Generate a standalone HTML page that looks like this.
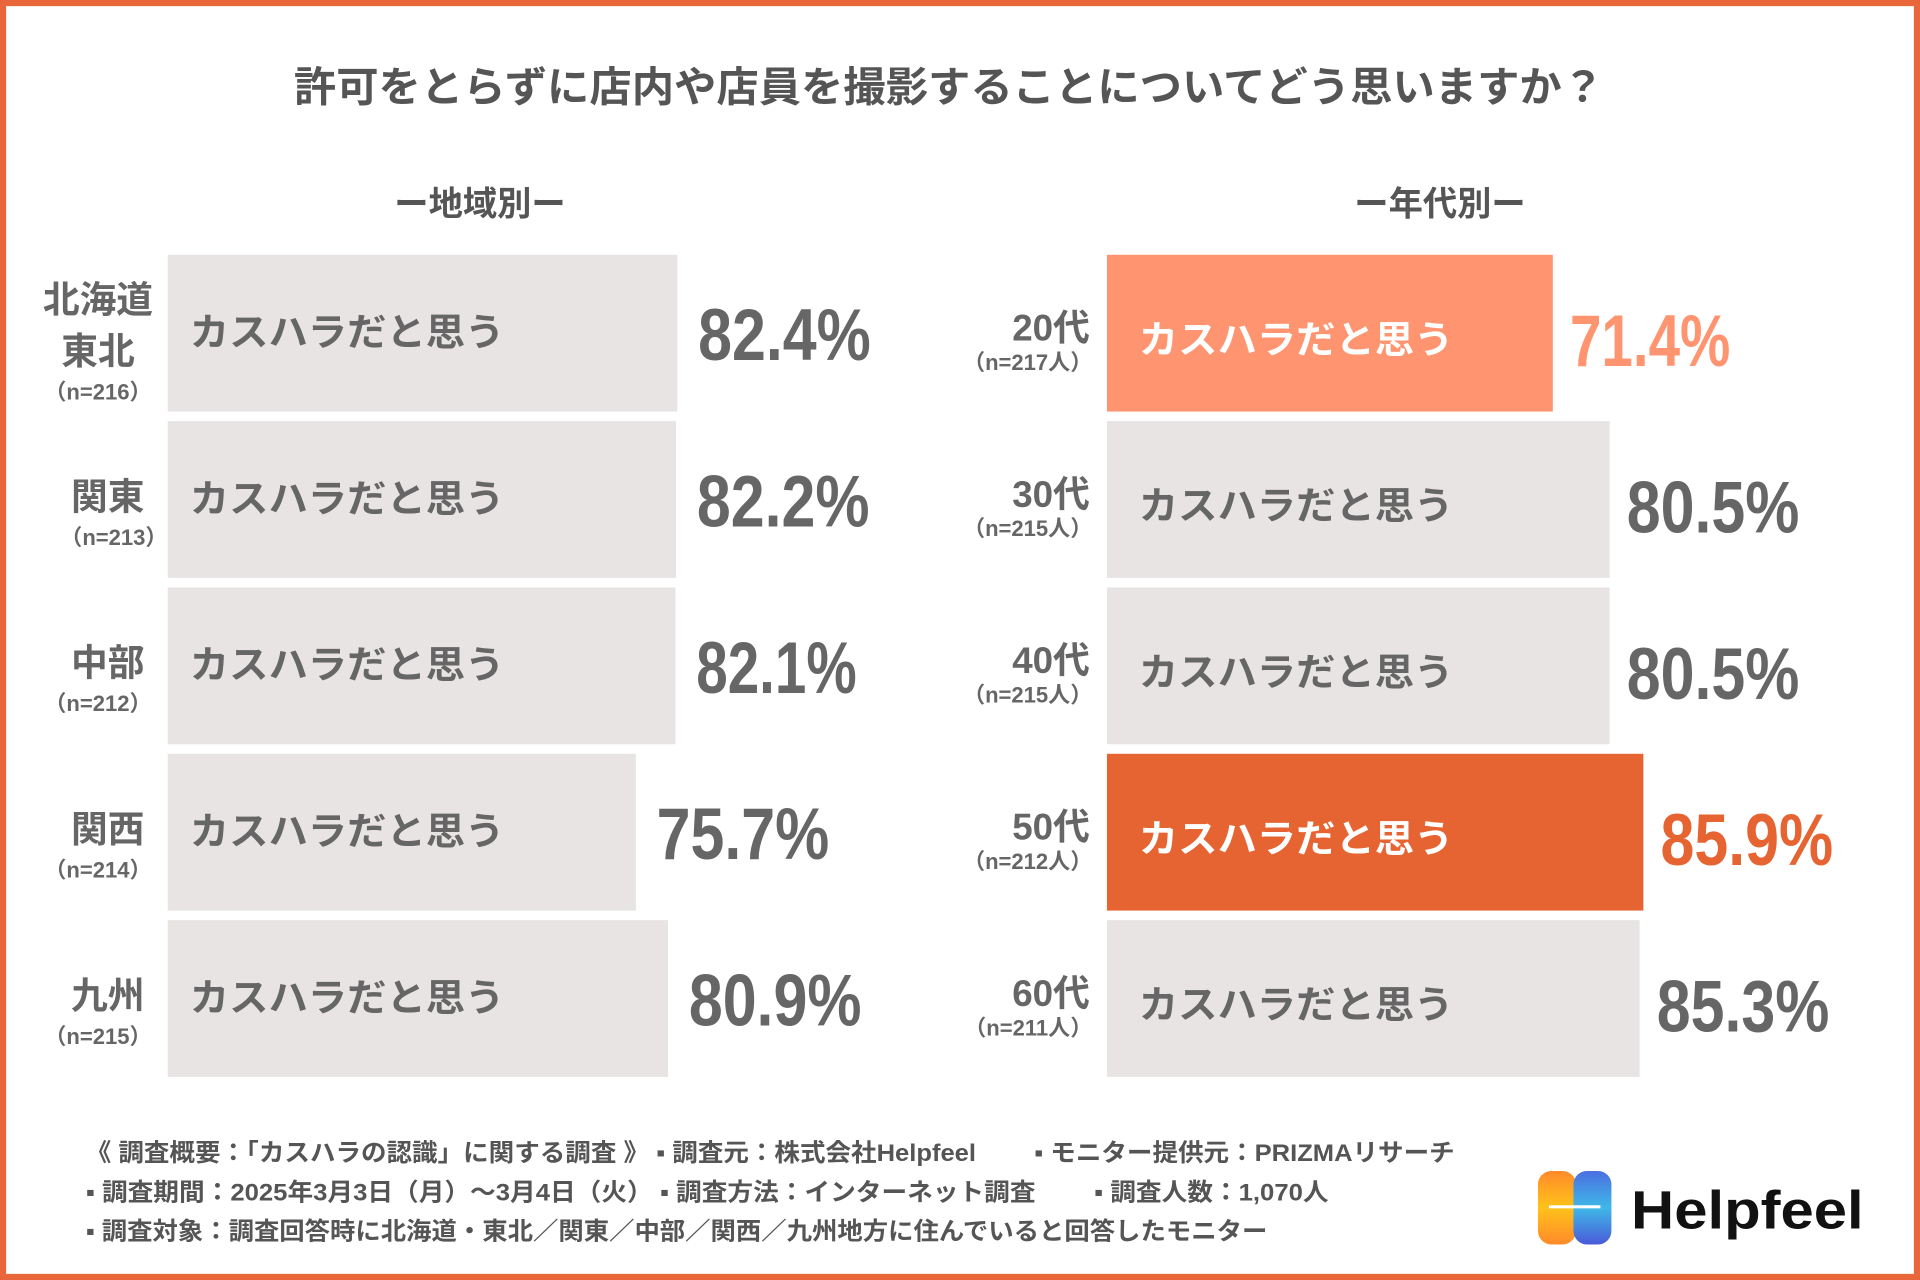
<!DOCTYPE html>
<html><head><meta charset="utf-8"><style>
html,body{margin:0;padding:0;background:#fff}
svg{display:block}
text{font-family:"Liberation Sans","Noto Sans CJK JP",sans-serif;font-weight:bold}
</style></head><body>
<svg id="chart" width="1920" height="1280" viewBox="0 0 1568 1045" preserveAspectRatio="none" xmlns="http://www.w3.org/2000/svg">
<rect x="2.5" y="2.5" width="1563" height="1040" fill="#fff" stroke="#e8663a" stroke-width="5"/>
<text x="240" y="83" font-size="34" fill="#555" textLength="1070" lengthAdjust="spacingAndGlyphs">許可をとらずに店内や店員を撮影することについてどう思いますか？</text>
<text x="392" y="176" text-anchor="middle" font-size="28" fill="#555">ー地域別ー</text>
<text x="1176" y="176" text-anchor="middle" font-size="28" fill="#555">ー年代別ー</text>
<g id="left"></g>
<g id="right"></g>
<g font-size="20" fill="#555">
<text x="70" y="948" textLength="1118" lengthAdjust="spacingAndGlyphs">《 調査概要：「カスハラの認識」に関する調査 》 ▪ 調査元：株式会社Helpfeel　　 ▪ モニター提供元：PRIZMAリサーチ</text>
<text x="70" y="980" textLength="1015" lengthAdjust="spacingAndGlyphs">▪ 調査期間：2025年3月3日（月）～3月4日（火） ▪ 調査方法：インターネット調査　　 ▪ 調査人数：1,070人</text>
<text x="70" y="1012" textLength="965" lengthAdjust="spacingAndGlyphs">▪ 調査対象：調査回答時に北海道・東北／関東／中部／関西／九州地方に住んでいると回答したモニター</text>
</g>
<g>
<defs>
<linearGradient id="go" x1="0" y1="0" x2="0" y2="1"><stop offset="0" stop-color="#ff8a2a"/><stop offset="0.5" stop-color="#ffc21a"/><stop offset="1" stop-color="#ff8a2a"/></linearGradient>
<linearGradient id="gb" x1="0" y1="0" x2="0" y2="1"><stop offset="0" stop-color="#4a6fe0"/><stop offset="0.5" stop-color="#3fb8e8"/><stop offset="1" stop-color="#4a5ad8"/></linearGradient>
</defs>
<rect x="1256" y="956" width="31" height="60" rx="11" fill="url(#go)"/>
<rect x="1285" y="956" width="31" height="60" rx="11" fill="url(#gb)"/>
<rect x="1265" y="984" width="42" height="2.5" fill="#fff"/>
<text x="1332" y="1003" font-size="44" fill="#111" textLength="190" lengthAdjust="spacingAndGlyphs">Helpfeel</text>
</g>
</svg>
<script>
const regionNames = [["北海道","東北"],["関東"],["中部"],["関西"],["九州"]];
const regionN = ["（n=216）","（n=213）","（n=212）","（n=214）","（n=215）"];
const regionValues = [82.4, 82.2, 82.1, 75.7, 80.9];
const ageNames = ["20代","30代","40代","50代","60代"];
const ageN = ["（n=217人）","（n=215人）","（n=215人）","（n=212人）","（n=211人）"];
const ageValues = [71.4, 80.5, 80.5, 85.9, 85.3];
const barLabel = "カスハラだと思う";

const NS = "http://www.w3.org/2000/svg";
function mk(tag, attrs, parent, txt){
  const e = document.createElementNS(NS, tag);
  for (const k in attrs) e.setAttribute(k, attrs[k]);
  if (txt !== undefined) e.textContent = txt;
  parent.appendChild(e); return e;
}
function numWidth(s){ return 141 - 10 * (s.split('1').length - 1); }
const rowY = i => 208 + i * 135.8;
const rowH = 128;
const xLeft = v => 137 + v * 5.05;
const xRight = v => 904 + v * 5.1;

const gl = document.getElementById('left');
regionValues.forEach((v, i) => {
  const y = rowY(i);
  const r = mk('rect', {x:137, y:y, width:xLeft(v)-137, height:rowH, fill:'#e8e4e3'}, gl);
  
  
  const t = mk('text', {x:155, y:y+74, 'font-size':31, fill:'#666', textLength:257, lengthAdjust:'spacingAndGlyphs'}, gl, barLabel);
  
  
  const s0 = v.toFixed(1)+'%';
  const n = mk('text', {x:xLeft(v)+17, y:y+86, 'font-size':60, fill:'#666', textLength:numWidth(s0), lengthAdjust:'spacingAndGlyphs'}, gl, s0);
  
  
  const names = regionNames[i];
  const cx = names.length > 1 ? 80 : 88;
  const base = names.length > 1 ? y+47 : y+72;
  names.forEach((nm, j) => {
    const c = mk('text', {x:cx, y:base + j*42, 'font-size':30, fill:'#666', 'text-anchor':'middle'}, gl, nm);
    
    
  });
  const s = mk('text', {x:names.length>1?80:i===1?93:80, y:base + (names.length-1)*42 + 29, 'font-size':18, fill:'#666', 'text-anchor':'middle'}, gl, regionN[i]);
  
  
});

const gr = document.getElementById('right');
const ageFill = ['#ff9470','#e8e4e3','#e8e4e3','#e66432','#e8e4e3'];
const ageText = ['#fff','#666','#666','#fff','#666'];
const ageNum = ['#ff9470','#666','#666','#e66432','#666'];
ageValues.forEach((v, i) => {
  const y = rowY(i);
  const r = mk('rect', {x:904, y:y, width:xRight(v)-904, height:rowH, fill:ageFill[i]}, gr);
  
  
  const t = mk('text', {x:930, y:y+80, 'font-size':31, fill:ageText[i], textLength:257, lengthAdjust:'spacingAndGlyphs'}, gr, barLabel);
  
  
  const s0 = v.toFixed(1)+'%';
  const n = mk('text', {x:xRight(v)+14, y:y+91, 'font-size':60, fill:ageNum[i], textLength:numWidth(s0), lengthAdjust:'spacingAndGlyphs'}, gr, s0);
  
  
  const a = mk('text', {x:890, y:y+70, 'font-size':30, fill:'#666', 'text-anchor':'end'}, gr, ageNames[i]);
  
  
  const s = mk('text', {x:892, y:y+94, 'font-size':18, fill:'#666', 'text-anchor':'end'}, gr, ageN[i]);
  
  
});
</script>
</body></html>
